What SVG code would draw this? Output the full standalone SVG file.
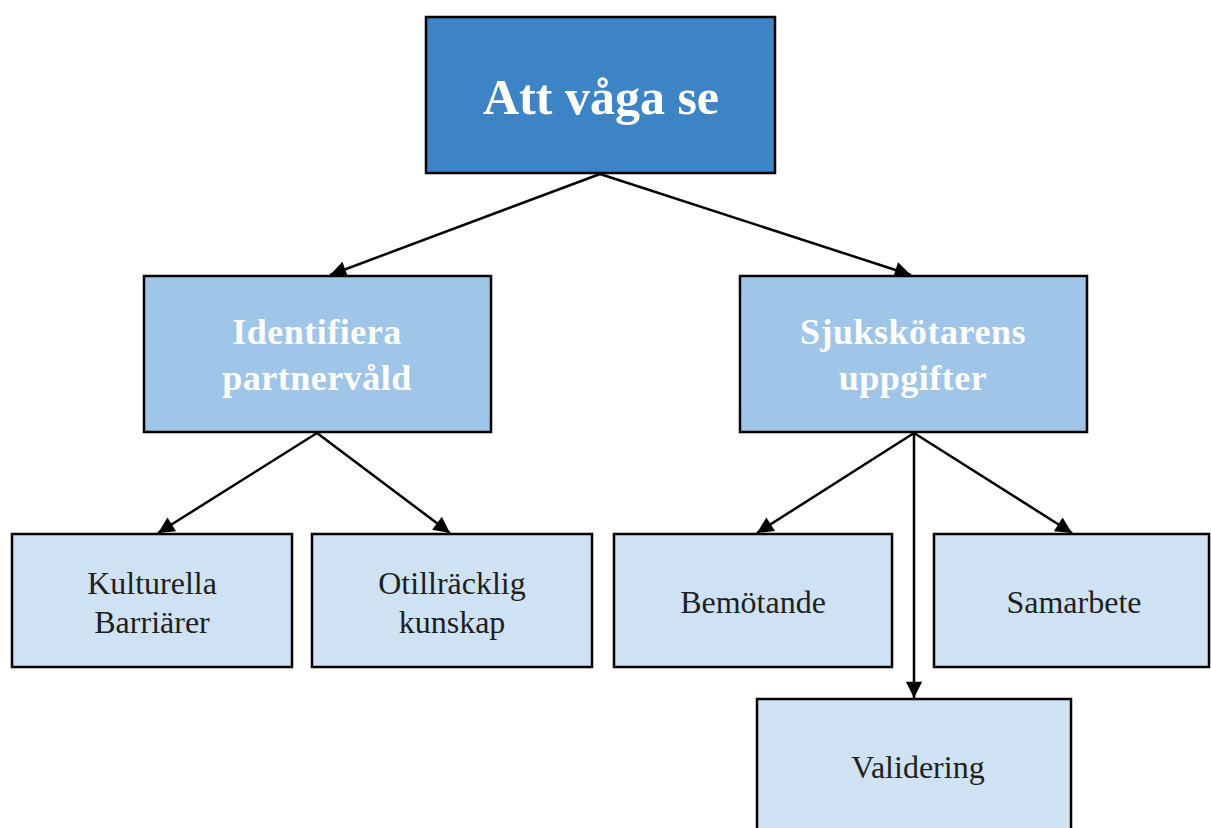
<svg xmlns="http://www.w3.org/2000/svg" width="1211" height="828" viewBox="0 0 1211 828">
<style>
.box{stroke:#000;stroke-width:2.5}
.l0{fill:#3d84c6}
.l1{fill:#9fc5e8}
.l2{fill:#cfe2f3}
.t0{font-family:"Liberation Serif",serif;font-weight:bold;font-size:50px;fill:#fff;text-anchor:middle}
.t1{font-family:"Liberation Serif",serif;font-weight:bold;font-size:36px;fill:#fff;text-anchor:middle;letter-spacing:0.5px}
.t2{font-family:"Liberation Serif",serif;font-size:32px;fill:#1f1f1f;text-anchor:middle}
.edge{stroke:#000;stroke-width:2.5;fill:none;marker-end:url(#arr)}
</style>
<defs>
<marker id="arr" viewBox="0 0 10 10" refX="10" refY="5" markerWidth="7.5" markerHeight="6.5" orient="auto" markerUnits="strokeWidth">
<path d="M0,0 L10,5 L0,10 z" fill="#000"/>
</marker>
</defs>
<rect width="1211" height="828" fill="#fff"/>
<g id="connectors">
<line class="edge" x1="600" y1="174" x2="330" y2="275"/>
<line class="edge" x1="600" y1="174" x2="911" y2="275"/>
<line class="edge" x1="317" y1="433" x2="158" y2="533"/>
<line class="edge" x1="317" y1="433" x2="450" y2="533"/>
<line class="edge" x1="914" y1="433" x2="757" y2="533"/>
<line class="edge" x1="914" y1="433" x2="914" y2="698"/>
<line class="edge" x1="914" y1="433" x2="1072" y2="533"/>
</g>
<g id="node-top">
<rect class="box l0" x="426" y="17" width="349" height="156"/>
<text class="t0" x="601" y="114">Att våga se</text>
</g>
<g id="node-identifiera">
<rect class="box l1" x="144" y="276" width="347" height="156"/>
<text class="t1" x="317" y="344">Identifiera</text>
<text class="t1" x="317" y="390">partnervåld</text>
</g>
<g id="node-sjukskotarens">
<rect class="box l1" x="740" y="276" width="347" height="156"/>
<text class="t1" x="913" y="344">Sjukskötarens</text>
<text class="t1" x="913" y="390">uppgifter</text>
</g>
<g id="node-kulturella">
<rect class="box l2" x="12" y="534" width="280" height="133"/>
<text class="t2" x="152" y="594">Kulturella</text>
<text class="t2" x="152" y="633">Barriärer</text>
</g>
<g id="node-otillracklig">
<rect class="box l2" x="312" y="534" width="280" height="133"/>
<text class="t2" x="452" y="594">Otillräcklig</text>
<text class="t2" x="452" y="633">kunskap</text>
</g>
<g id="node-bemotande">
<rect class="box l2" x="614" y="534" width="278" height="133"/>
<text class="t2" x="753" y="613">Bemötande</text>
</g>
<g id="node-samarbete">
<rect class="box l2" x="934" y="534" width="275" height="133"/>
<text class="t2" x="1074" y="613">Samarbete</text>
</g>
<g id="node-validering">
<rect class="box l2" x="757" y="699" width="314" height="160"/>
<text class="t2" x="918" y="778">Validering</text>
</g>
</svg>
